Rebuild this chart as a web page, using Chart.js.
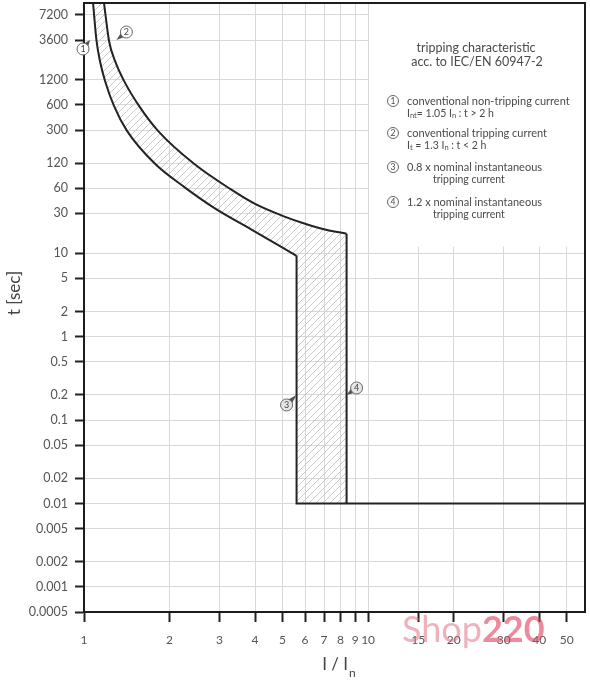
<!DOCTYPE html>
<html><head><meta charset="utf-8">
<script src="https://cdn.jsdelivr.net/npm/chart.js@4.4.0/dist/chart.umd.min.js"></script>
<style>html,body{margin:0;padding:0;background:#fff;}canvas{display:block;}</style>
</head><body>
<canvas id="c" width="590" height="685"></canvas>
<script>
// ---- data ----
const xTicks = [1,2,3,4,5,6,7,8,9,10,15,20,30,40,50];
const xTickLabels = ['1','2','3','4','5','6','7','8','9','10','15','20','30','40','50'];
const yTicks = [0.0005,0.001,0.002,0.005,0.01,0.02,0.05,0.1,0.2,0.5,1,2,5,10,30,60,120,300,600,1200,3600,7200];
const yTickLabels = ['0.0005','0.001','0.002','0.005','0.01','0.02','0.05','0.1','0.2','0.5','1','2','5','10','30','60','120','300','600','1200','3600','7200'];
const xMin = 1, xMax = 58, yMin = 0.0005, yMax = 10000;

// lower (non-tripping) boundary: I/In and t [sec]
const lowerX = [1.076,1.107,1.138,1.186,1.275,1.417,1.778,2.25,2.87,3.9,5.6];
const lowerT = [10000,3508,2020,1164,584,293,118,62.5,35,19.1,9.3];
// upper (tripping) boundary
const upperX = [1.176,1.225,1.286,1.383,1.562,1.822,2.44,3.27,4.0,5.0,6.0,7.0,8.4];
const upperT = [10000,3508,2020,1164,584,293,118,59,39,28.1,22.6,19.4,17.1];
// instantaneous release band
const instLow = 5.6, instHigh = 8.4, instTime = 0.01;

// numbered markers
const markerX = [1.05, 1.3, 5.6, 8.4];
const markerT = [3600, 3600, 0.2, 0.2];
const markerLabels = ['1','2','3','4'];

// legend box extent (data units)
const boxFromX = 10, boxDownToT = 12;

// legend texts
const legendTitle = ['tripping characteristic', 'acc. to IEC/EN 60947-2'];
const legendItems = [
  {n:'1', l1:'conventional non-tripping current', l2:[['I',0],['nt',1],['= 1.05 I',0],['n',1],[' : t > 2 h',0]]},
  {n:'2', l1:'conventional tripping current', l2:[['I',0],['t',1],[' = 1.3 I',0],['n',1],[' : t < 2 h',0]]},
  {n:'3', l1:'0.8 x nominal instantaneous', l2:[['tripping current',0]], indent:true},
  {n:'4', l1:'1.2 x nominal instantaneous', l2:[['tripping current',0]], indent:true}
];

// ---- build series ----
const pts = (xs, ts) => xs.map((x,i)=>({x, y: ts[i]}));
const lowerCurve = pts(lowerX, lowerT);
const upperCurve = pts(upperX, upperT);
const lowerStep = [{x: instLow, y: lowerT[lowerT.length-1]}, {x: instLow, y: instTime}, {x: xMax, y: instTime}];
const upperStep = [{x: instHigh, y: upperT[upperT.length-1]}, {x: instHigh, y: instTime}];
const band = lowerCurve.concat([{x: instLow, y: instTime}, {x: instHigh, y: instTime}], upperCurve.slice().reverse());

const canvas = document.getElementById('c');
const ctx0 = canvas.getContext('2d');
function hatch(){
  const s = 7, c = document.createElement('canvas'); c.width = s; c.height = s;
  const g = c.getContext('2d');
  g.strokeStyle = '#cacaca'; g.lineWidth = 1;
  g.beginPath();
  g.moveTo(0, s); g.lineTo(s, 0);
  g.moveTo(-1, 1); g.lineTo(1, -1);
  g.moveTo(s-1, s+1); g.lineTo(s+1, s-1);
  g.stroke();
  return ctx0.createPattern(c, 'repeat');
}

const FONT = 'Lato';
const LINE = '#232323';

const curveDs = (data) => ({data, showLine: true, pointRadius: 0, borderColor: LINE, borderWidth: 2, cubicInterpolationMode: 'monotone', fill: false, order: 0});
const stepDs = (data) => ({data, showLine: true, pointRadius: 0, borderColor: LINE, borderWidth: 2, tension: 0, fill: false, order: 0});

const decor = {
  id: 'decor',
  beforeDatasetsDraw(chart){
    const {ctx, chartArea: a, scales: {x, y}} = chart;
    const bx = x.getPixelForValue(boxFromX) + 1;
    const by = y.getPixelForValue(boxDownToT);
    ctx.save();
    ctx.fillStyle = '#fff';
    ctx.fillRect(bx, a.top, a.right - bx, by - a.top);
    ctx.restore();
  },
  afterDatasetsDraw(chart){
    const {ctx, chartArea: a, scales: {x, y}} = chart;
    ctx.save();
    ctx.strokeStyle = '#1c1c1c'; ctx.lineWidth = 2;
    ctx.strokeRect(a.left, a.top, a.right - a.left, a.bottom - a.top);
    // markers
    const offs = [[-7,9],[10,-8],[-10,10],[10,-7]];
    markerX.forEach((mx, i) => {
      const px = x.getPixelForValue(mx), py = y.getPixelForValue(markerT[i]);
      const cx = px + offs[i][0], cy = py + offs[i][1];
      const dx = px - cx, dy = py - cy, d = Math.hypot(dx, dy);
      const ux = dx/d, uy = dy/d;
      const bxp = cx + ux*4, byp = cy + uy*4;
      ctx.fillStyle = '#555';
      ctx.beginPath();
      ctx.moveTo(px, py);
      ctx.lineTo(bxp - uy*3, byp + ux*3);
      ctx.lineTo(bxp + uy*3, byp - ux*3);
      ctx.closePath(); ctx.fill();
      ctx.beginPath(); ctx.arc(cx, cy, 6, 0, Math.PI*2);
      ctx.fillStyle = i < 2 ? '#fff' : '#e6e6e6'; ctx.fill();
      ctx.strokeStyle = '#666'; ctx.lineWidth = 1; ctx.stroke();
      ctx.fillStyle = '#444'; ctx.font = '9px ' + FONT;
      ctx.textAlign = 'center'; ctx.textBaseline = 'middle';
      ctx.fillText(markerLabels[i], cx, cy + 0.5);
    });
    ctx.restore();
  },
  afterDraw(chart){
    const {ctx} = chart;
    ctx.save();
    ctx.fillStyle = '#4a4a4a';
    ctx.textBaseline = 'middle';
    ctx.textAlign = 'center'; ctx.font = '12.5px ' + FONT;
    ctx.fillText(legendTitle[0], 476, 48);
    ctx.fillText(legendTitle[1], 477, 62);
    const ys = [101, 133, 167, 202];
    legendItems.forEach((it, i) => {
      const yy = ys[i];
      ctx.beginPath(); ctx.arc(393, yy, 5.5, 0, Math.PI*2);
      ctx.fillStyle = '#fff'; ctx.fill(); ctx.strokeStyle = '#666'; ctx.lineWidth = 1; ctx.stroke();
      ctx.fillStyle = '#4a4a4a'; ctx.textAlign = 'center'; ctx.font = '8.5px ' + FONT;
      ctx.fillText(it.n, 393, yy + 0.5);
      ctx.textAlign = 'left'; ctx.font = '11px ' + FONT;
      ctx.fillText(it.l1, 407, yy);
      let xx = it.indent ? 433 : 407;
      const y2 = yy + 12.5;
      it.l2.forEach(([t, sub]) => {
        ctx.font = (sub ? 7.5 : 10.5) + 'px ' + FONT;
        ctx.fillText(t, xx, y2 + (sub ? 2.5 : 0));
        xx += ctx.measureText(t).width;
      });
    });
    ctx.fillStyle = '#444';
    ctx.save();
    ctx.translate(15, 293); ctx.rotate(-Math.PI/2);
    ctx.textAlign = 'center'; ctx.font = '17px ' + FONT;
    ctx.fillText('t [sec]', 0, 0);
    ctx.restore();
    ctx.textAlign = 'left'; ctx.font = '17px ' + FONT;
    const main = 'I / I';
    const w = ctx.measureText(main).width;
    ctx.font = '12px ' + FONT;
    const ws = ctx.measureText('n').width;
    let sx = 339 - (w + ws + 1)/2;
    ctx.font = '17px ' + FONT;
    ctx.fillText(main, sx, 665);
    ctx.font = '12px ' + FONT;
    ctx.fillText('n', sx + w + 1, 673);
    ctx.textBaseline = 'alphabetic';
    ctx.font = '36px ' + FONT;
    ctx.fillStyle = 'rgba(228,100,120,0.5)';
    ctx.fillText('Shop', 402, 642);
    const sw = ctx.measureText('Shop').width;
    ctx.font = 'bold 36px ' + FONT;
    ctx.fillStyle = 'rgba(222,62,92,0.6)';
    ctx.fillText('220', 402 + sw, 642);
    ctx.restore();
  }
};

new Chart(canvas, {
  type: 'scatter',
  data: {
    datasets: [
      curveDs(lowerCurve),
      curveDs(upperCurve),
      stepDs(lowerStep),
      stepDs(upperStep),
      {data: band, showLine: true, pointRadius: 0, borderWidth: 0, borderColor: 'rgba(0,0,0,0)', backgroundColor: hatch(), fill: 'shape', tension: 0, order: 10}
    ]
  },
  options: {
    responsive: false,
    animation: false,
    devicePixelRatio: 1,
    layout: {padding: {left: 0, top: 3, right: 5, bottom: 0}},
    plugins: {legend: {display: false}, tooltip: {enabled: false}},
    scales: {
      x: {
        type: 'logarithmic', min: xMin, max: xMax,
        afterBuildTicks(s){ s.ticks = xTicks.map(v => ({value: v})); },
        afterFit(s){ s.height = 73; s.paddingLeft = 0; s.paddingRight = 0; },
        ticks: {autoSkip: false, maxRotation: 0, padding: 11, color: '#555', font: {family: FONT, size: 12},
          callback: (v, i) => xTickLabels[i]},
        grid: {color: '#d8d8d8', lineWidth: 1, tickColor: '#222', tickLength: 10, tickWidth: 2},
        border: {color: '#1c1c1c', width: 2}
      },
      y: {
        type: 'logarithmic', min: yMin, max: yMax,
        afterBuildTicks(s){ s.ticks = yTicks.map(v => ({value: v})); },
        afterFit(s){ s.width = 84; s.paddingTop = 0; s.paddingBottom = 0; },
        ticks: {autoSkip: false, padding: 7, color: '#555', font: {family: FONT, size: 12.5},
          callback: (v, i) => yTickLabels[i]},
        grid: {color: '#d8d8d8', lineWidth: 1, tickColor: '#222', tickLength: 9, tickWidth: 2},
        border: {color: '#1c1c1c', width: 2}
      }
    }
  },
  plugins: [decor]
});
</script>
</body></html>
